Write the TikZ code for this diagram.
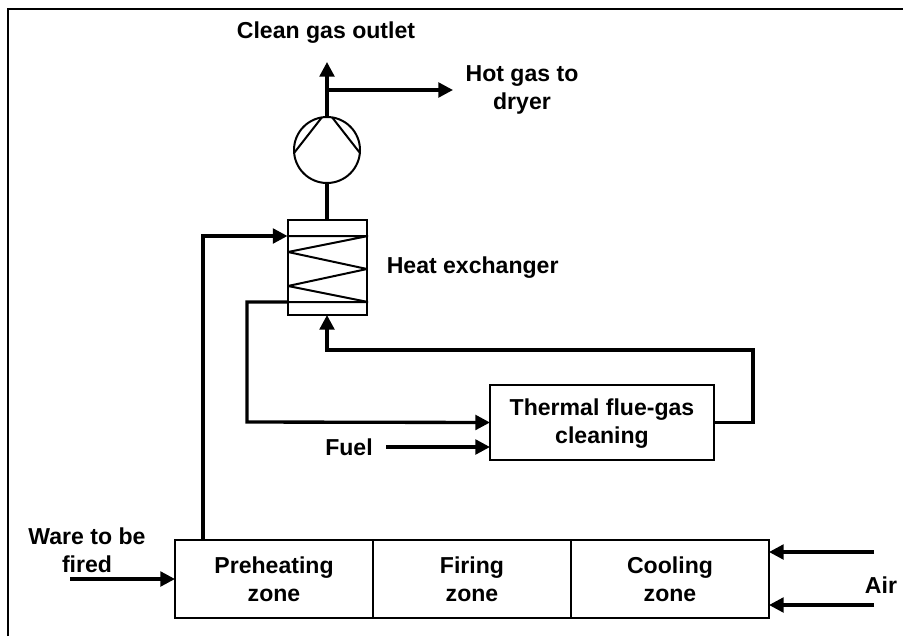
\documentclass[tikz,border=0pt]{standalone}
\usepackage{fontspec}
\setmainfont{Liberation Sans}
\usetikzlibrary{positioning,arrows.meta}
\tikzset{
  lbl/.style={font=\fontsize{17.3}{21}\selectfont\bfseries,align=center,inner sep=0pt},
  unit/.style={draw,line width=1.5pt,outer sep=0pt,inner sep=0pt},
  zone/.style={unit,lbl,minimum width=148.5pt,minimum height=58.5pt},
  flow/.style={line width=2.5pt,-{Triangle[length=11pt,width=11pt]}},
  pipe/.style={line width=2.5pt},
  coil/.style={line width=1.5pt,line join=bevel}
}
\begin{document}
\begin{tikzpicture}[x=0.75pt,y=-0.75pt]
\useasboundingbox (0,0) rectangle (903,636);
\draw[line width=2pt] (8,636)--(8,9)--(903,9);
% kiln
\node[zone] (preheat) at (274,579) {Preheating\\zone};
\node[zone,right=0pt of preheat] (firing) {Firing\\zone};
\node[zone,right=0pt of firing] (cooling) {Cooling\\zone};
% heat exchanger and fan
\node[unit,minimum width=59.25pt,minimum height=71.25pt] (hx) at (327,267.5) {};
\node[unit,circle,minimum size=49.5pt] (fan) at (327,150) {};
\draw[coil] (fan.99)--(fan.185) (fan.81)--(fan.-5);
\coordinate (c1) at (287,236); \coordinate (c2) at (368,236);
\coordinate (c3) at (288,252); \coordinate (c4) at (367,269);
\coordinate (c5) at (288,286); \coordinate (c6) at (368,302);
\coordinate (c7) at (287,302);
\draw[coil] (c1)--(c2)--(c3)--(c4)--(c5)--(c6)--(c7);
\node[unit,minimum width=168pt,minimum height=56.25pt] (clean) at (602,422.5) {};
\node[lbl] (cleantext) at (602,424) {Thermal flue-gas\\cleaning};
% labels
\node[lbl] (outlet) at (326,33) {Clean gas outlet};
\node[lbl] (dryer) at (522,89.5) {Hot gas to\\dryer};
\node[lbl,right=15pt of hx] (hxlabel) {Heat exchanger};
\node[lbl] (fuel) at (349,447) {Fuel};
\node[lbl] (ware) at (87,550) {Ware to be\\fired};
\node[lbl] (air) at (881,585) {Air};
% free ends
\coordinate (warein) at (70,579);
\coordinate (air1) at (874,552);
\coordinate (air2) at (874,605);
\coordinate (fanout) at (327,90);
\coordinate (top) at (327,62);
% connectors
\draw[pipe] (hx.north)--(fan.south);
\draw[flow] (fan.north)--(top);
\draw[flow] (fanout)--(453,90);
\draw[flow] (preheat.north-|203,0)--(203,236)--(hx.west|-c1);
\draw[flow] (c7)-|(247,422)--(clean.west);
\draw[flow] ([xshift=10pt]fuel.east)--(clean.west|-fuel);
\draw[flow] (clean.east)-|(753,350)-|(hx.south);
\draw[flow] (warein)--(preheat.west);
\draw[flow] (air1)--(cooling.east|-air1);
\draw[flow] (air2)--(cooling.east|-air2);
\end{tikzpicture}
\end{document}
